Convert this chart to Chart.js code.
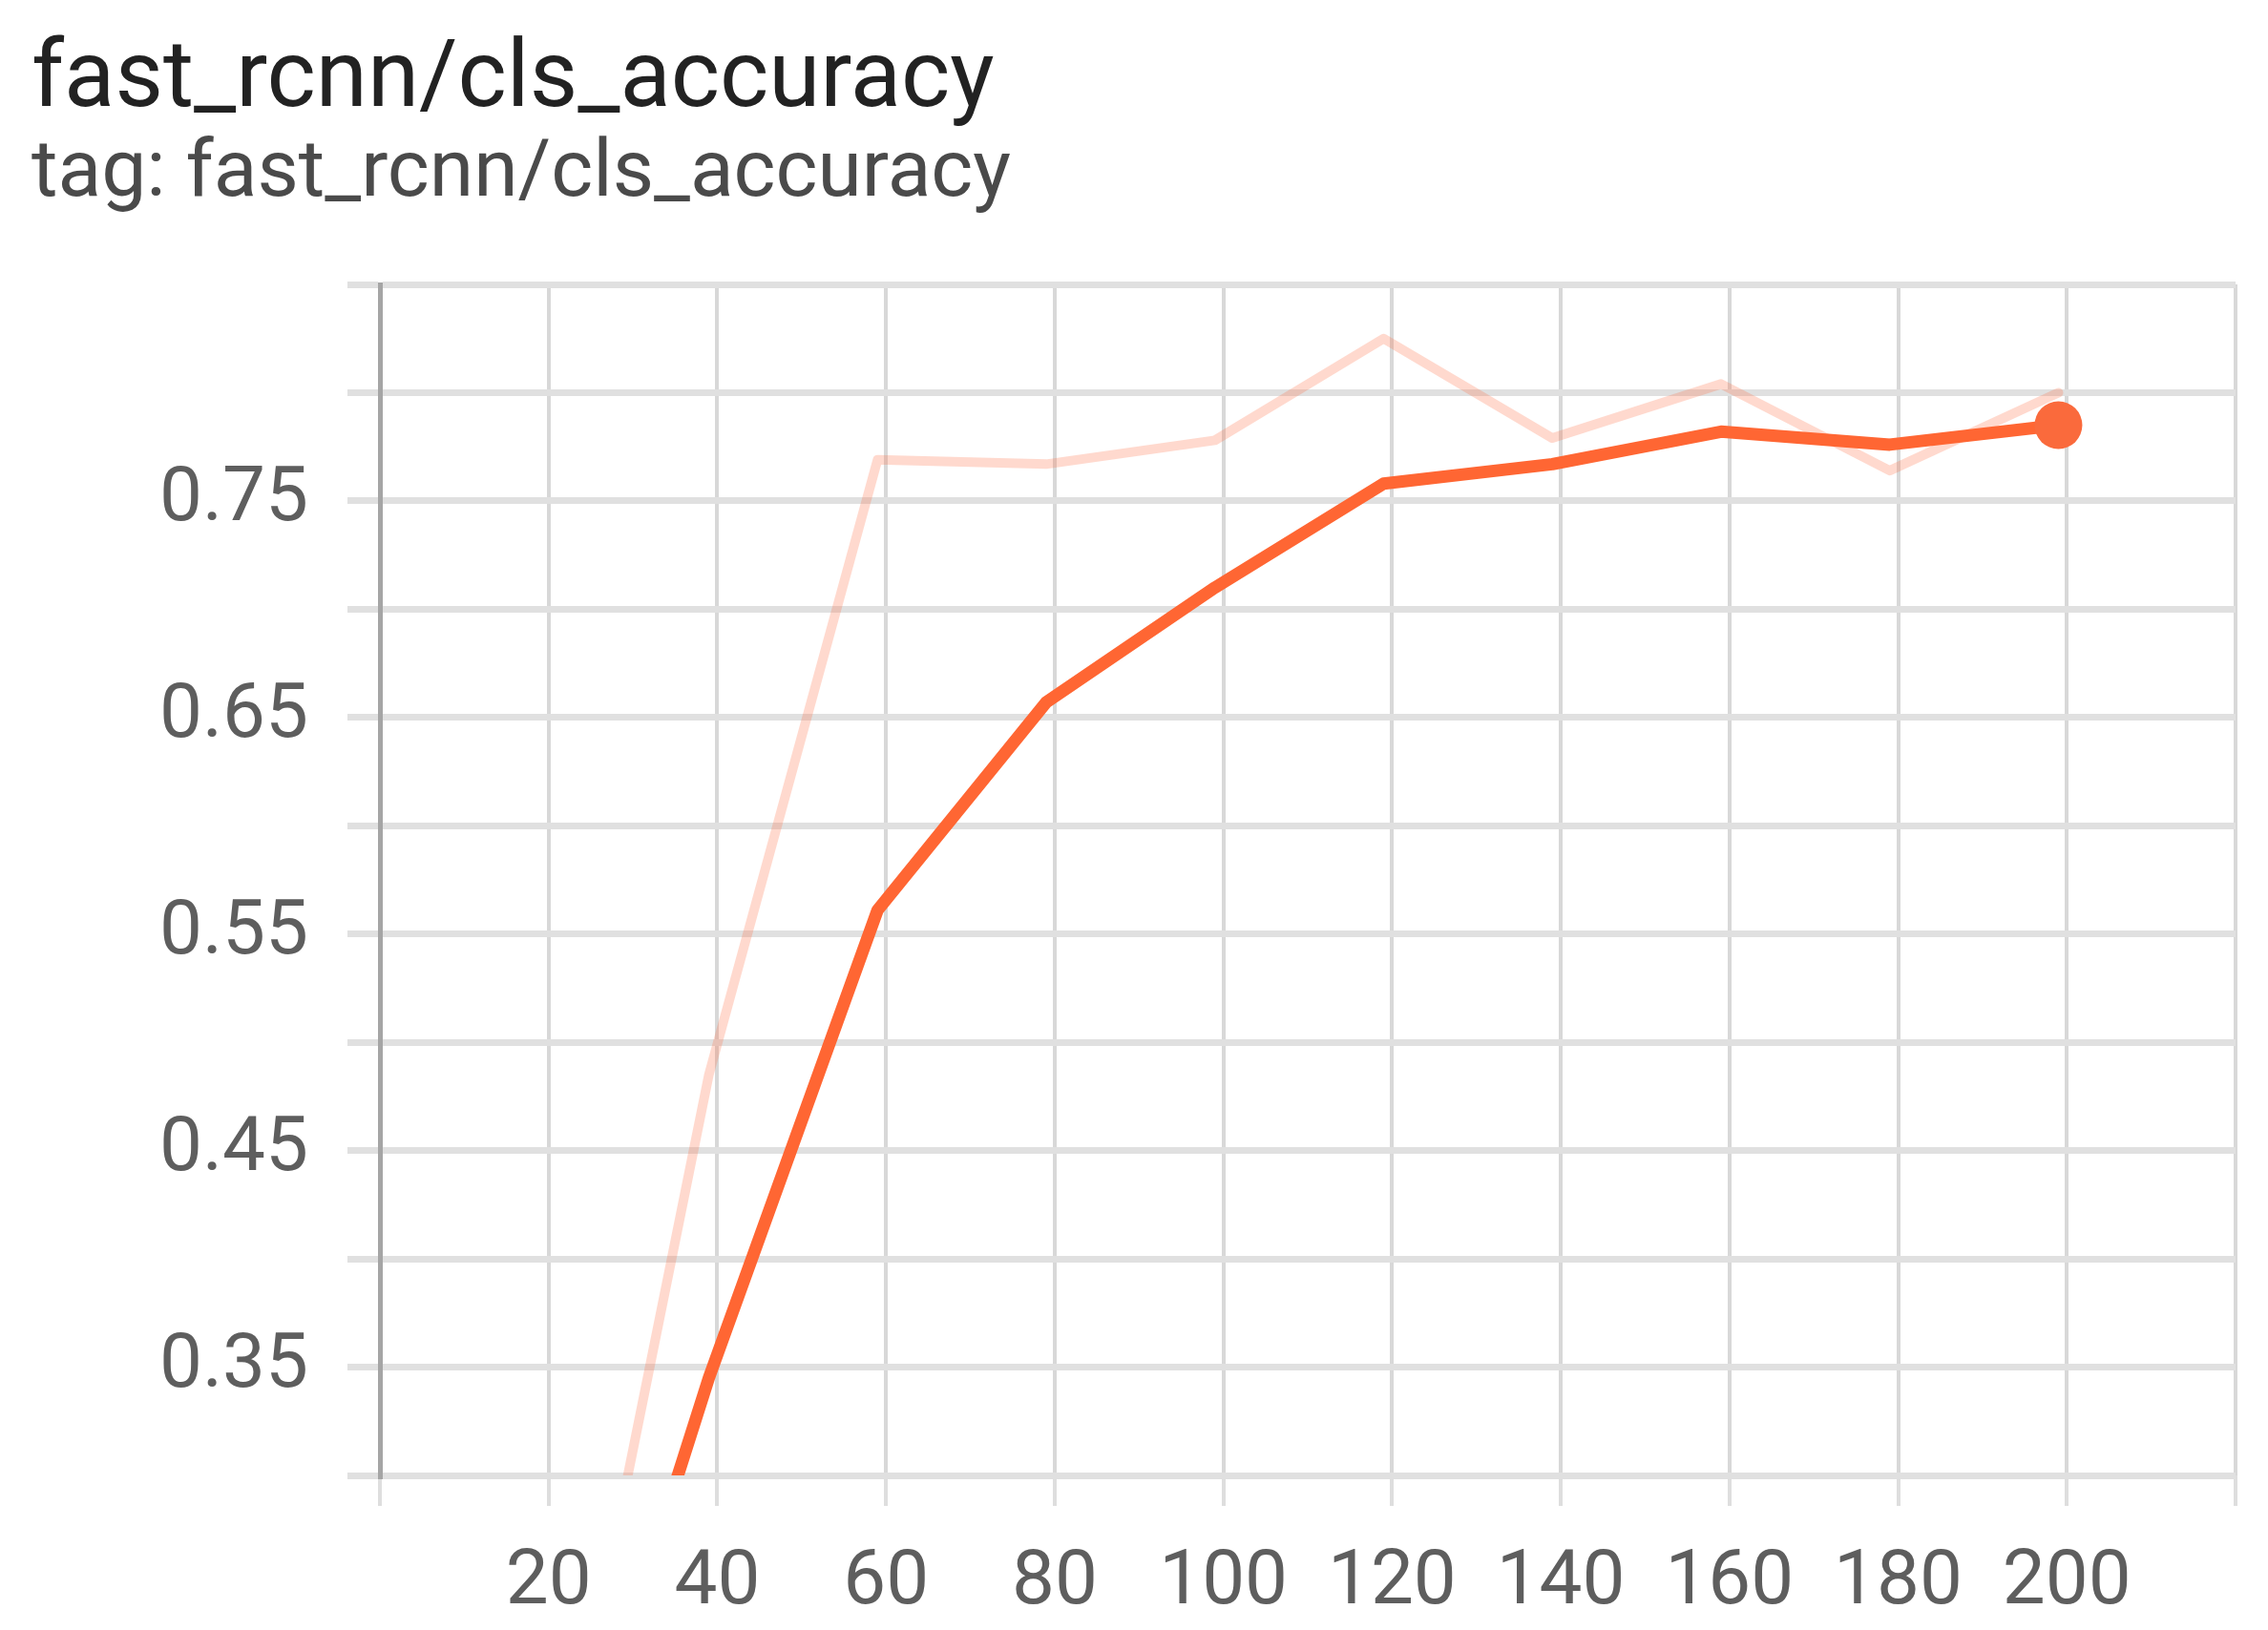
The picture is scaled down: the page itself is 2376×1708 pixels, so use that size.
<!DOCTYPE html>
<html>
<head>
<meta charset="utf-8">
<script src="https://cdn.jsdelivr.net/npm/chart.js@4.4.1/dist/chart.umd.min.js"></script>
<style>
  html, body { margin: 0; padding: 0; background: #ffffff; }
  #wrap { width: 2376px; height: 1708px; }
</style>
</head>
<body>
<div id="wrap"><canvas id="c" width="2376" height="1708"></canvas></div>
<script>
// ---- data ----
const titleText = 'fast_rcnn/cls_accuracy';
const subtitleText = 'tag: fast_rcnn/cls_accuracy';
const steps = [19, 39, 59, 79, 99, 119, 139, 159, 179, 199];
const rawValues = [0.100, 0.485, 0.769, 0.767, 0.778, 0.825, 0.779, 0.804, 0.764, 0.800];
const smoothedValues = [0.100, 0.345, 0.561, 0.657, 0.710, 0.758, 0.767, 0.782, 0.776, 0.785];
const xTickLabels = ['20', '40', '60', '80', '100', '120', '140', '160', '180', '200'];
const yTickLabels = ['0.35', '0.45', '0.55', '0.65', '0.75'];

const toPoints = (vals) => steps.map((s, i) => ({ x: s, y: vals[i] }));

const FONT = 'Roboto, "Noto Sans", "DejaVu Sans", sans-serif';
const lastIndex = steps.length - 1;

new Chart(document.getElementById('c'), {
  type: 'line',
  data: {
    datasets: [
      {
        label: 'smoothed',
        data: toPoints(smoothedValues),
        borderColor: '#ff6633',
        backgroundColor: '#ff6633',
        borderWidth: 13,
        borderJoinStyle: 'round',
        borderCapStyle: 'round',
        tension: 0,
        fill: false,
        clip: 0,
        pointRadius: (ctx) => (ctx.dataIndex === lastIndex ? 25 : 0),
        pointBorderWidth: 0,
        pointBackgroundColor: '#fa6a3c',
        pointHoverRadius: 0
      },
      {
        label: 'raw',
        data: toPoints(rawValues),
        borderColor: 'rgba(255, 110, 64, 0.26)',
        borderWidth: 10,
        borderJoinStyle: 'round',
        borderCapStyle: 'round',
        tension: 0,
        fill: false,
        clip: 0,
        pointRadius: 0,
        pointHoverRadius: 0
      }
    ]
  },
  options: {
    responsive: false,
    animation: false,
    devicePixelRatio: 1,
    events: [],
    layout: { padding: { left: 33, right: 24, top: 37, bottom: 0 } },
    plugins: {
      legend: { display: false },
      tooltip: { enabled: false },
      title: {
        display: true,
        text: titleText,
        align: 'start',
        color: '#222222',
        font: { family: FONT, size: 98, weight: '400', lineHeight: 1 },
        padding: { top: 0, bottom: 7 }
      },
      subtitle: {
        display: true,
        text: subtitleText,
        align: 'start',
        color: '#4a4a4a',
        font: { family: FONT, size: 84, weight: '400', lineHeight: 1 },
        padding: { top: 0, bottom: 72 }
      }
    },
    scales: {
      x: {
        type: 'linear',
        min: 0,
        max: 220,
        afterFit: (scale) => { scale.height = 162; },
        ticks: {
          stepSize: 20,
          autoSkip: false,
          maxRotation: 0,
          maxTicksLimit: 30,
          color: '#5e5e5e',
          padding: 34,
          font: { family: FONT, size: 80 },
          callback: (v) => (xTickLabels.includes(String(v)) ? String(v) : '')
        },
        grid: {
          color: '#d8d8d8',
          lineWidth: 4,
          tickLength: 32,
          tickColor: '#dedede',
          tickWidth: 4
        },
        border: { display: false }
      },
      y: {
        type: 'linear',
        min: 0.30,
        max: 0.85,
        afterFit: (scale) => { scale.width = 365; },
        ticks: {
          stepSize: 0.05,
          autoSkip: false,
          maxTicksLimit: 30,
          color: '#5e5e5e',
          padding: 41,
          font: { family: FONT, size: 80 },
          callback: (v) => {
            const s = Number(v).toFixed(2);
            return yTickLabels.includes(s) ? s : '';
          }
        },
        grid: {
          color: '#e0e0e0',
          lineWidth: 7,
          tickLength: 34,
          tickColor: '#e0e0e0',
          tickWidth: 7
        },
        border: { display: true, color: '#a5a5a5', width: 5 }
      }
    }
  }
});
</script>
</body>
</html>
